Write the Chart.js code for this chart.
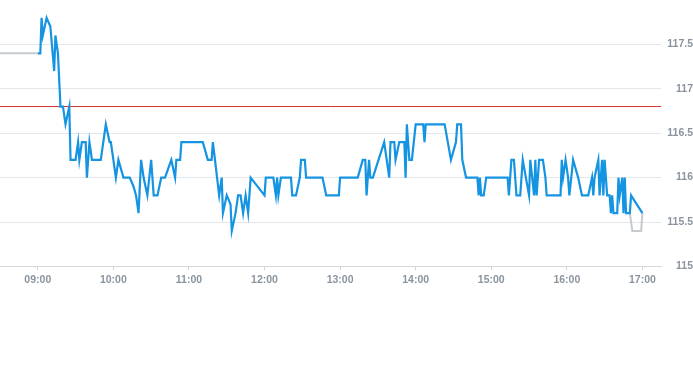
<!DOCTYPE html>
<html>
<head>
<meta charset="utf-8">
<script src="https://cdn.jsdelivr.net/npm/chart.js@4/dist/chart.umd.min.js"></script>
<style>
  html, body { margin: 0; padding: 0; background: #fff; }
  #wrap { width: 693px; height: 365px; position: relative; }
</style>
</head>
<body>
<div id="wrap"><canvas id="grafico"></canvas></div>
<script>
const preTimes = ["08:30", "09:00"];
const preValues = [117.4, 117.4];

const sessionTimes = [
  "09:00", "09:02", "09:03", "09:04", "09:07", "09:10", "09:13", "09:14", "09:16", "09:18",
  "09:20", "09:22", "09:25", "09:26", "09:30", "09:32", "09:33", "09:35", "09:38", "09:39",
  "09:41", "09:43", "09:50", "09:54", "09:57", "09:58", "10:02", "10:04", "10:08", "10:13",
  "10:16", "10:18", "10:20", "10:22", "10:24", "10:27", "10:30", "10:32", "10:35", "10:38",
  "10:41", "10:46", "10:49", "10:50", "10:53", "10:54", "11:11", "11:15", "11:18", "11:19",
  "11:24", "11:26", "11:27", "11:30", "11:33", "11:34", "11:37", "11:39", "11:41", "11:43",
  "11:45", "11:47", "11:49", "12:00", "12:01", "12:07", "12:09", "12:10", "12:11", "12:13",
  "12:21", "12:22", "12:25", "12:28", "12:29", "12:32", "12:33", "12:46", "12:49", "12:59",
  "13:00", "13:14", "13:18", "13:20", "13:21", "13:23", "13:24", "13:26", "13:35", "13:39",
  "13:40", "13:43", "13:44", "13:47", "13:51", "13:52", "13:53", "13:55", "13:57", "14:00",
  "14:06", "14:07", "14:08", "14:23", "14:28", "14:32", "14:33", "14:36", "14:37", "14:40",
  "14:49", "14:50", "14:51", "14:52", "14:54", "14:56", "15:13", "15:14", "15:16", "15:18",
  "15:20", "15:23", "15:25", "15:30", "15:31", "15:34", "15:35", "15:36", "15:38", "15:41",
  "15:43", "15:44", "15:49", "15:55", "15:56", "15:57", "15:59", "16:01", "16:02", "16:05",
  "16:07", "16:09", "16:12", "16:17", "16:20", "16:21", "16:22", "16:25", "16:26", "16:28",
  "16:29", "16:30", "16:32", "16:34", "16:35", "16:36", "16:37", "16:40", "16:41", "16:42",
  "16:44", "16:45", "16:46", "16:47", "16:50", "16:51", "17:00"
];
const sessionValues = [
  117.4, 117.4, 117.8, 117.6, 117.8, 117.7, 117.2, 117.6, 117.4, 116.8,
  116.8, 116.6, 116.8, 116.2, 116.2, 116.4, 116.2, 116.4, 116.4, 116.0,
  116.4, 116.2, 116.2, 116.6, 116.4, 116.4, 116.0, 116.2, 116.0, 116.0,
  115.9, 115.8, 115.6, 116.2, 116.0, 115.8, 116.2, 115.8, 115.8, 116.0,
  116.0, 116.2, 116.0, 116.2, 116.2, 116.4, 116.4, 116.2, 116.2, 116.4,
  115.8, 116.0, 115.6, 115.8, 115.7, 115.4, 115.6, 115.8, 115.8, 115.6,
  115.8, 115.6, 116.0, 115.8, 116.0, 116.0, 115.8, 116.0, 115.8, 116.0,
  116.0, 115.8, 115.8, 116.0, 116.2, 116.2, 116.0, 116.0, 115.8, 115.8,
  116.0, 116.0, 116.2, 116.2, 115.8, 116.2, 116.0, 116.0, 116.4, 116.0,
  116.4, 116.4, 116.2, 116.4, 116.4, 116.0, 116.6, 116.2, 116.2, 116.6,
  116.6, 116.4, 116.6, 116.6, 116.2, 116.4, 116.6, 116.6, 116.2, 116.0,
  116.0, 115.8, 116.0, 115.8, 115.8, 116.0, 116.0, 115.8, 116.2, 116.2,
  115.8, 115.8, 116.2, 115.8, 116.2, 115.8, 116.2, 115.8, 116.2, 116.2,
  116.0, 115.8, 115.8, 115.8, 116.2, 116.0, 116.2, 116.0, 115.8, 116.2,
  116.1, 116.0, 115.8, 115.8, 116.0, 115.8, 116.0, 116.2, 115.8, 116.2,
  115.8, 116.2, 115.8, 115.8, 115.6, 115.8, 115.6, 115.6, 116.0, 115.8,
  116.0, 115.6, 116.0, 115.6, 115.6, 115.8, 115.6
];

const postTimes = ["16:50", "16:52", "16:59", "17:00"];
const postValues = [115.6, 115.4, 115.4, 115.6];

const prevClose = 116.8;
const axisStart = "08:30";
const axisEnd = "17:15";
const hourTicks = ["09:00", "10:00", "11:00", "12:00", "13:00", "14:00", "15:00", "16:00", "17:00"];
const priceTicks = [115, 115.5, 116, 116.5, 117, 117.5];

function minutos(hhmm) {
  const p = hhmm.split(':');
  return parseInt(p[0], 10) * 60 + parseInt(p[1], 10);
}

function pontos(times, values) {
  return times.map((t, i) => ({ x: minutos(t), y: values[i] }));
}

function hora(m) {
  const h = Math.floor(m / 60);
  const mm = m % 60;
  return String(h).padStart(2, '0') + ':' + String(mm).padStart(2, '0');
}

const corTexto = '#8a949f';
const corGrade = '#e3e6ea';
const fonte = { family: "'Liberation Sans', Arial, sans-serif", size: 10.5, weight: 'bold' };

const ctx = document.getElementById('grafico').getContext('2d');
new Chart(ctx, {
  type: 'line',
  data: {
    datasets: [
      {
        data: pontos(sessionTimes, sessionValues),
        borderColor: '#1594e2',
        borderWidth: 2.2,
        pointRadius: 0,
        tension: 0,
        fill: false
      },
      {
        data: pontos(postTimes, postValues),
        borderColor: '#c5cacf',
        borderWidth: 2,
        pointRadius: 0,
        tension: 0,
        fill: false
      },
      {
        data: pontos(preTimes, preValues),
        borderColor: '#c5cacf',
        borderWidth: 2,
        pointRadius: 0,
        tension: 0,
        fill: false
      },
      {
        data: [{ x: minutos(axisStart), y: prevClose }, { x: minutos(axisEnd), y: prevClose }],
        borderColor: '#cc3329',
        borderWidth: 1,
        pointRadius: 0,
        fill: false
      }
    ]
  },
  options: {
    responsive: true,
    maintainAspectRatio: false,
    animation: false,
    layout: { padding: { left: 0, right: 0, top: 0, bottom: 76 } },
    plugins: { legend: { display: false }, tooltip: { enabled: false } },
    scales: {
      x: {
        type: 'linear',
        min: minutos(axisStart),
        max: minutos(axisEnd),
        afterBuildTicks: (scale) => {
          scale.ticks = hourTicks.map(t => ({ value: minutos(t) }));
        },
        ticks: {
          color: corTexto,
          font: fonte,
          padding: 3,
          maxRotation: 0,
          autoSkip: false,
          callback: (v) => hora(v)
        },
        grid: { drawOnChartArea: false, drawTicks: true, tickLength: 4, color: '#d3d8dd' },
        border: { display: true, color: '#d3d8dd' }
      },
      y: {
        position: 'right',
        min: 115,
        max: 118,
        afterBuildTicks: (scale) => {
          scale.ticks = priceTicks.map(v => ({ value: v }));
        },
        afterFit: (scale) => {
          scale.paddingTop = 0;
          scale.paddingBottom = 0;
        },
        ticks: {
          color: corTexto,
          font: fonte,
          padding: 3,
          crossAlign: 'far',
          callback: (v) => String(v)
        },
        grid: { color: corGrade, drawTicks: false },
        border: { display: false }
      }
    }
  }
});
</script>
</body>
</html>
